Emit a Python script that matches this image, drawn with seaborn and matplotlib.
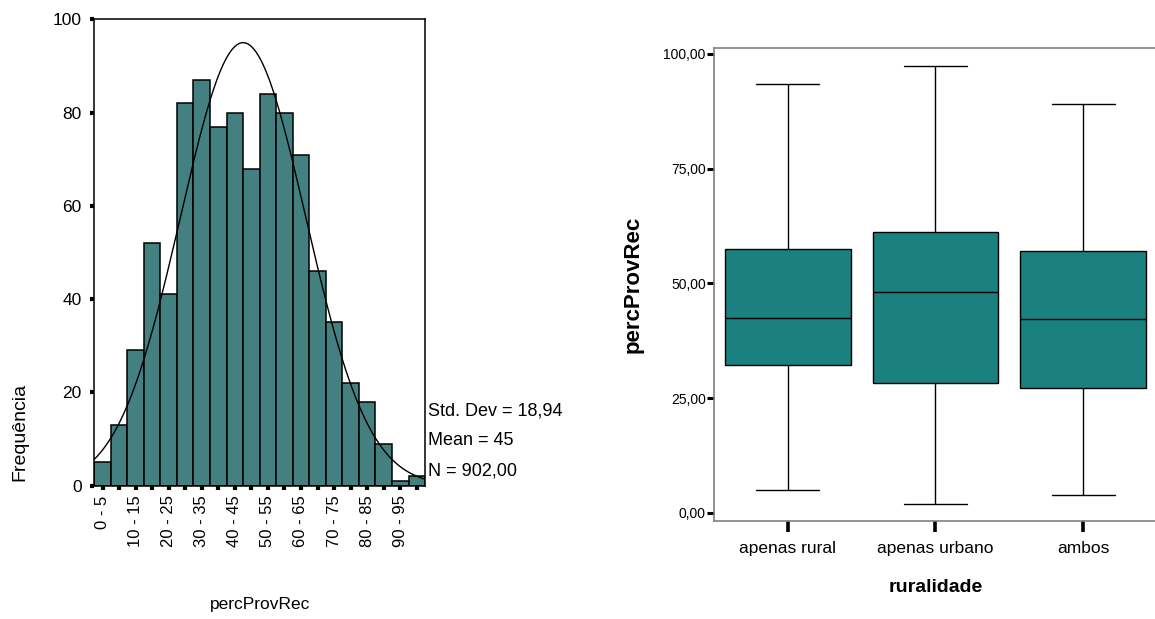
import numpy as np
import pandas as pd
import matplotlib
matplotlib.use("Agg")
import matplotlib.pyplot as plt
import seaborn as sns
from matplotlib.ticker import FuncFormatter

# histograma de percProvRec (classes de 5 em 5)
bin_edges = [0, 5, 10, 15, 20, 25, 30, 35, 40, 45, 50, 55, 60, 65, 70, 75, 80, 85, 90, 95, 100]
bin_labels = ['0 - 5', '5 - 10', '10 - 15', '15 - 20', '20 - 25', '25 - 30', '30 - 35',
              '35 - 40', '40 - 45', '45 - 50', '50 - 55', '55 - 60', '60 - 65', '65 - 70',
              '70 - 75', '75 - 80', '80 - 85', '85 - 90', '90 - 95', '95 - 100']
frequencia = [5, 13, 29, 52, 41, 82, 87, 77, 80, 68, 84, 80, 71, 46, 35, 22, 18, 9, 1, 2]
std_dev = 18.94
mean = 45
n = 902

# boxplot percProvRec por ruralidade: min, Q1, mediana, Q3, max
ruralidade = ['apenas rural', 'apenas urbano', 'ambos']
rural_stats = [4.9, 32.1, 42.4, 57.5, 93.4]
urbano_stats = [2.0, 28.2, 48.2, 61.2, 97.3]
ambos_stats = [3.9, 27.2, 42.2, 57.1, 89.1]

sns.set_style('white')
plt.rcParams['font.family'] = ['Liberation Sans', 'DejaVu Sans']
plt.rcParams['text.color'] = 'black'
plt.rcParams['axes.labelcolor'] = 'black'
plt.rcParams['xtick.color'] = 'black'
plt.rcParams['ytick.color'] = 'black'

fig = plt.figure(figsize=(11.55, 6.19), dpi=100)
ax1 = fig.add_axes([0.0816, 0.2153, 0.2864, 0.7535])
ax2 = fig.add_axes([0.6182, 0.1578, 0.3835, 0.7642])

# --- histograma ---
centros = [(a + b) / 2 for a, b in zip(bin_edges[:-1], bin_edges[1:])]
sns.histplot(x=centros, weights=frequencia, bins=bin_edges, color='#448080',
             edgecolor='black', linewidth=1.1, alpha=1, ax=ax1)

# curva normal com a media e desvio padrao do grafico
largura = bin_edges[1] - bin_edges[0]
xs = np.linspace(0, 100, 301)
ys = n * largura * np.exp(-0.5 * ((xs - mean) / std_dev) ** 2) / (std_dev * np.sqrt(2 * np.pi))
sns.lineplot(x=xs, y=ys, color='black', linewidth=1.0, ax=ax1)

ax1.set_xlim(0, 100)
ax1.set_ylim(0, 100)
ax1.set_yticks([0, 20, 40, 60, 80, 100])
ax1.set_xticks(centros)
ax1.set_xticklabels([lab if i % 2 == 0 else '' for i, lab in enumerate(bin_labels)],
                    rotation=90, fontsize=12)
ax1.tick_params(axis='y', labelsize=12.5, length=3, width=3, pad=6, left=True)
ax1.tick_params(axis='x', length=3, width=3, pad=4, bottom=True)
for s in ax1.spines.values():
    s.set_color('black')
    s.set_linewidth(1.1)
ax1.set_xlabel('percProvRec', fontsize=12.5)
ax1.xaxis.set_label_coords(0.5, -0.238)
ax1.set_ylabel('Frequência', fontsize=14)
ax1.yaxis.set_label_coords(-0.2, 0.116)

std_txt = f'{std_dev:.2f}'.replace('.', ',')
n_txt = f'{n:.2f}'.replace('.', ',')
ax1.text(1.009, 0.161, f'Std. Dev = {std_txt}', transform=ax1.transAxes,
         va='center', ha='left', fontsize=13)
ax1.text(1.009, 0.0964, f'Mean = {mean}', transform=ax1.transAxes,
         va='center', ha='left', fontsize=13)
ax1.text(1.009, 0.032, f'N = {n_txt}', transform=ax1.transAxes,
         va='center', ha='left', fontsize=13)

# --- boxplot ---
df = pd.DataFrame({
    'ruralidade': np.repeat(ruralidade, 5),
    'percProvRec': rural_stats + urbano_stats + ambos_stats,
})
sns.boxplot(data=df, x='ruralidade', y='percProvRec', order=ruralidade, whis=(0, 100),
            color='#1b8080', saturation=1, width=0.85, linecolor='black', linewidth=1,
            fliersize=0, ax=ax2)

ax2.set_xlim(-0.5, 2.5)
ax2.set_ylim(-1.87, 101.2)
ax2.set_yticks([0, 25, 50, 75, 100])
ax2.yaxis.set_major_formatter(FuncFormatter(lambda v, p: f'{v:.2f}'.replace('.', ',')))
ax2.tick_params(axis='y', labelsize=10, length=5, width=2.2, pad=1, left=True)
ax2.tick_params(axis='x', labelsize=12.5, length=8, width=2.6, pad=6, bottom=True)
for s in ax2.spines.values():
    s.set_color('#808080')
    s.set_linewidth(1.2)
ax2.spines['right'].set_visible(False)
ax2.set_xlabel('ruralidade', fontsize=14, fontweight='bold', labelpad=17)
ax2.set_ylabel('percProvRec', fontsize=16, fontweight='bold', labelpad=14)

fig.savefig('out.png', dpi=100)
